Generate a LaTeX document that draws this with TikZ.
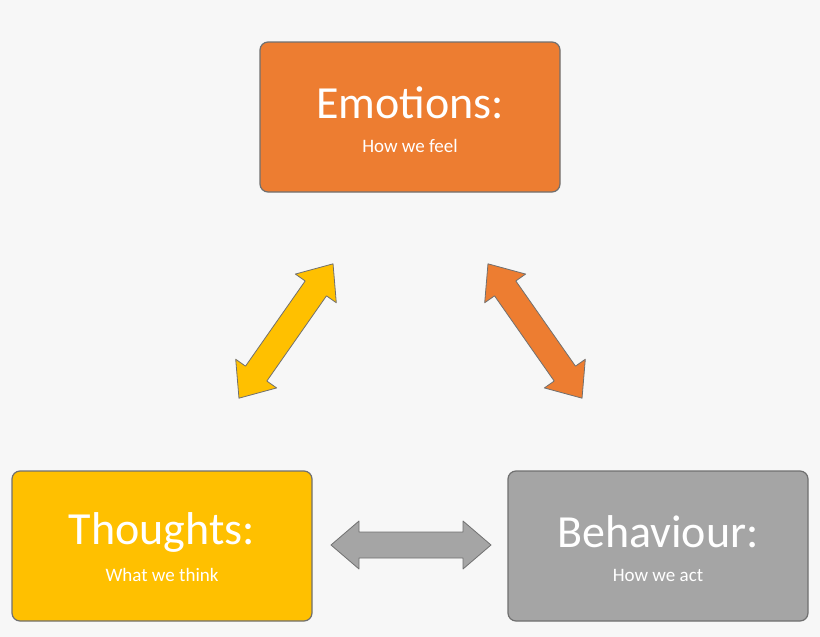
\documentclass[tikz,border=0pt]{standalone}
\usepackage{fontspec}
\setmainfont{Carlito}
\definecolor{bg}{HTML}{F7F7F7}
\definecolor{org}{HTML}{ED7D31}
\definecolor{yel}{HTML}{FFC000}
\definecolor{gry}{HTML}{A5A5A5}
\definecolor{edge}{HTML}{707070}
\begin{document}
\begin{tikzpicture}[x=1pt,y=1pt,
 box/.style={draw=edge,line width=1.2pt,rounded corners=8pt,minimum width=300pt,minimum height=150pt,inner sep=0pt},
 ttl/.style={text=white,font=\fontsize{46}{50}\selectfont,inner sep=0pt},
 sub/.style={text=white,font=\fontsize{19}{22}\selectfont,inner sep=0pt},
 arr/.style={draw=edge,line width=0.8pt,line join=round}]
\fill[bg] (0,0) rectangle (820,-637);
\useasboundingbox (0,0) rectangle (820,-637);
\node[box,fill=org] (emo) at (410,-117) {};
\node[ttl] (emoT) at (410,-103) {Emotions:};
\node[sub] (emoS) at (410,-146) {How we feel};
\node[box,fill=yel] (tho) at (162,-546) {};
\node[ttl] (thoT) at (162,-532) {Thoughts:};
\node[sub] (thoS) at (162,-575) {What we think};
\node[box,fill=gry] (beh) at (658,-546) {};
\node[ttl] (behT) at (658,-532) {Behaviour:};
\node[sub] (behS) at (658,-575) {How we act};
% double arrows
\foreach \cx/\cy/\ang/\col/\L/\hl/\sw/\hw in {286/-331/55/yel/82/30/13/25, 535/-331/-55/org/82/30/13/25, 411/-545/0/gry/80/28/13/24}{
 \begin{scope}[shift={(\cx,\cy)},rotate=\ang]
 \fill[\col,draw=edge,line width=0.8pt,line join=round]
  (-\L,0) -- (-\L+\hl,\hw) -- (-\L+\hl,\sw) -- (\L-\hl,\sw) -- (\L-\hl,\hw) -- (\L,0)
  -- (\L-\hl,-\hw) -- (\L-\hl,-\sw) -- (-\L+\hl,-\sw) -- (-\L+\hl,-\hw) -- cycle;
 \end{scope}}
\end{tikzpicture}
\end{document}
